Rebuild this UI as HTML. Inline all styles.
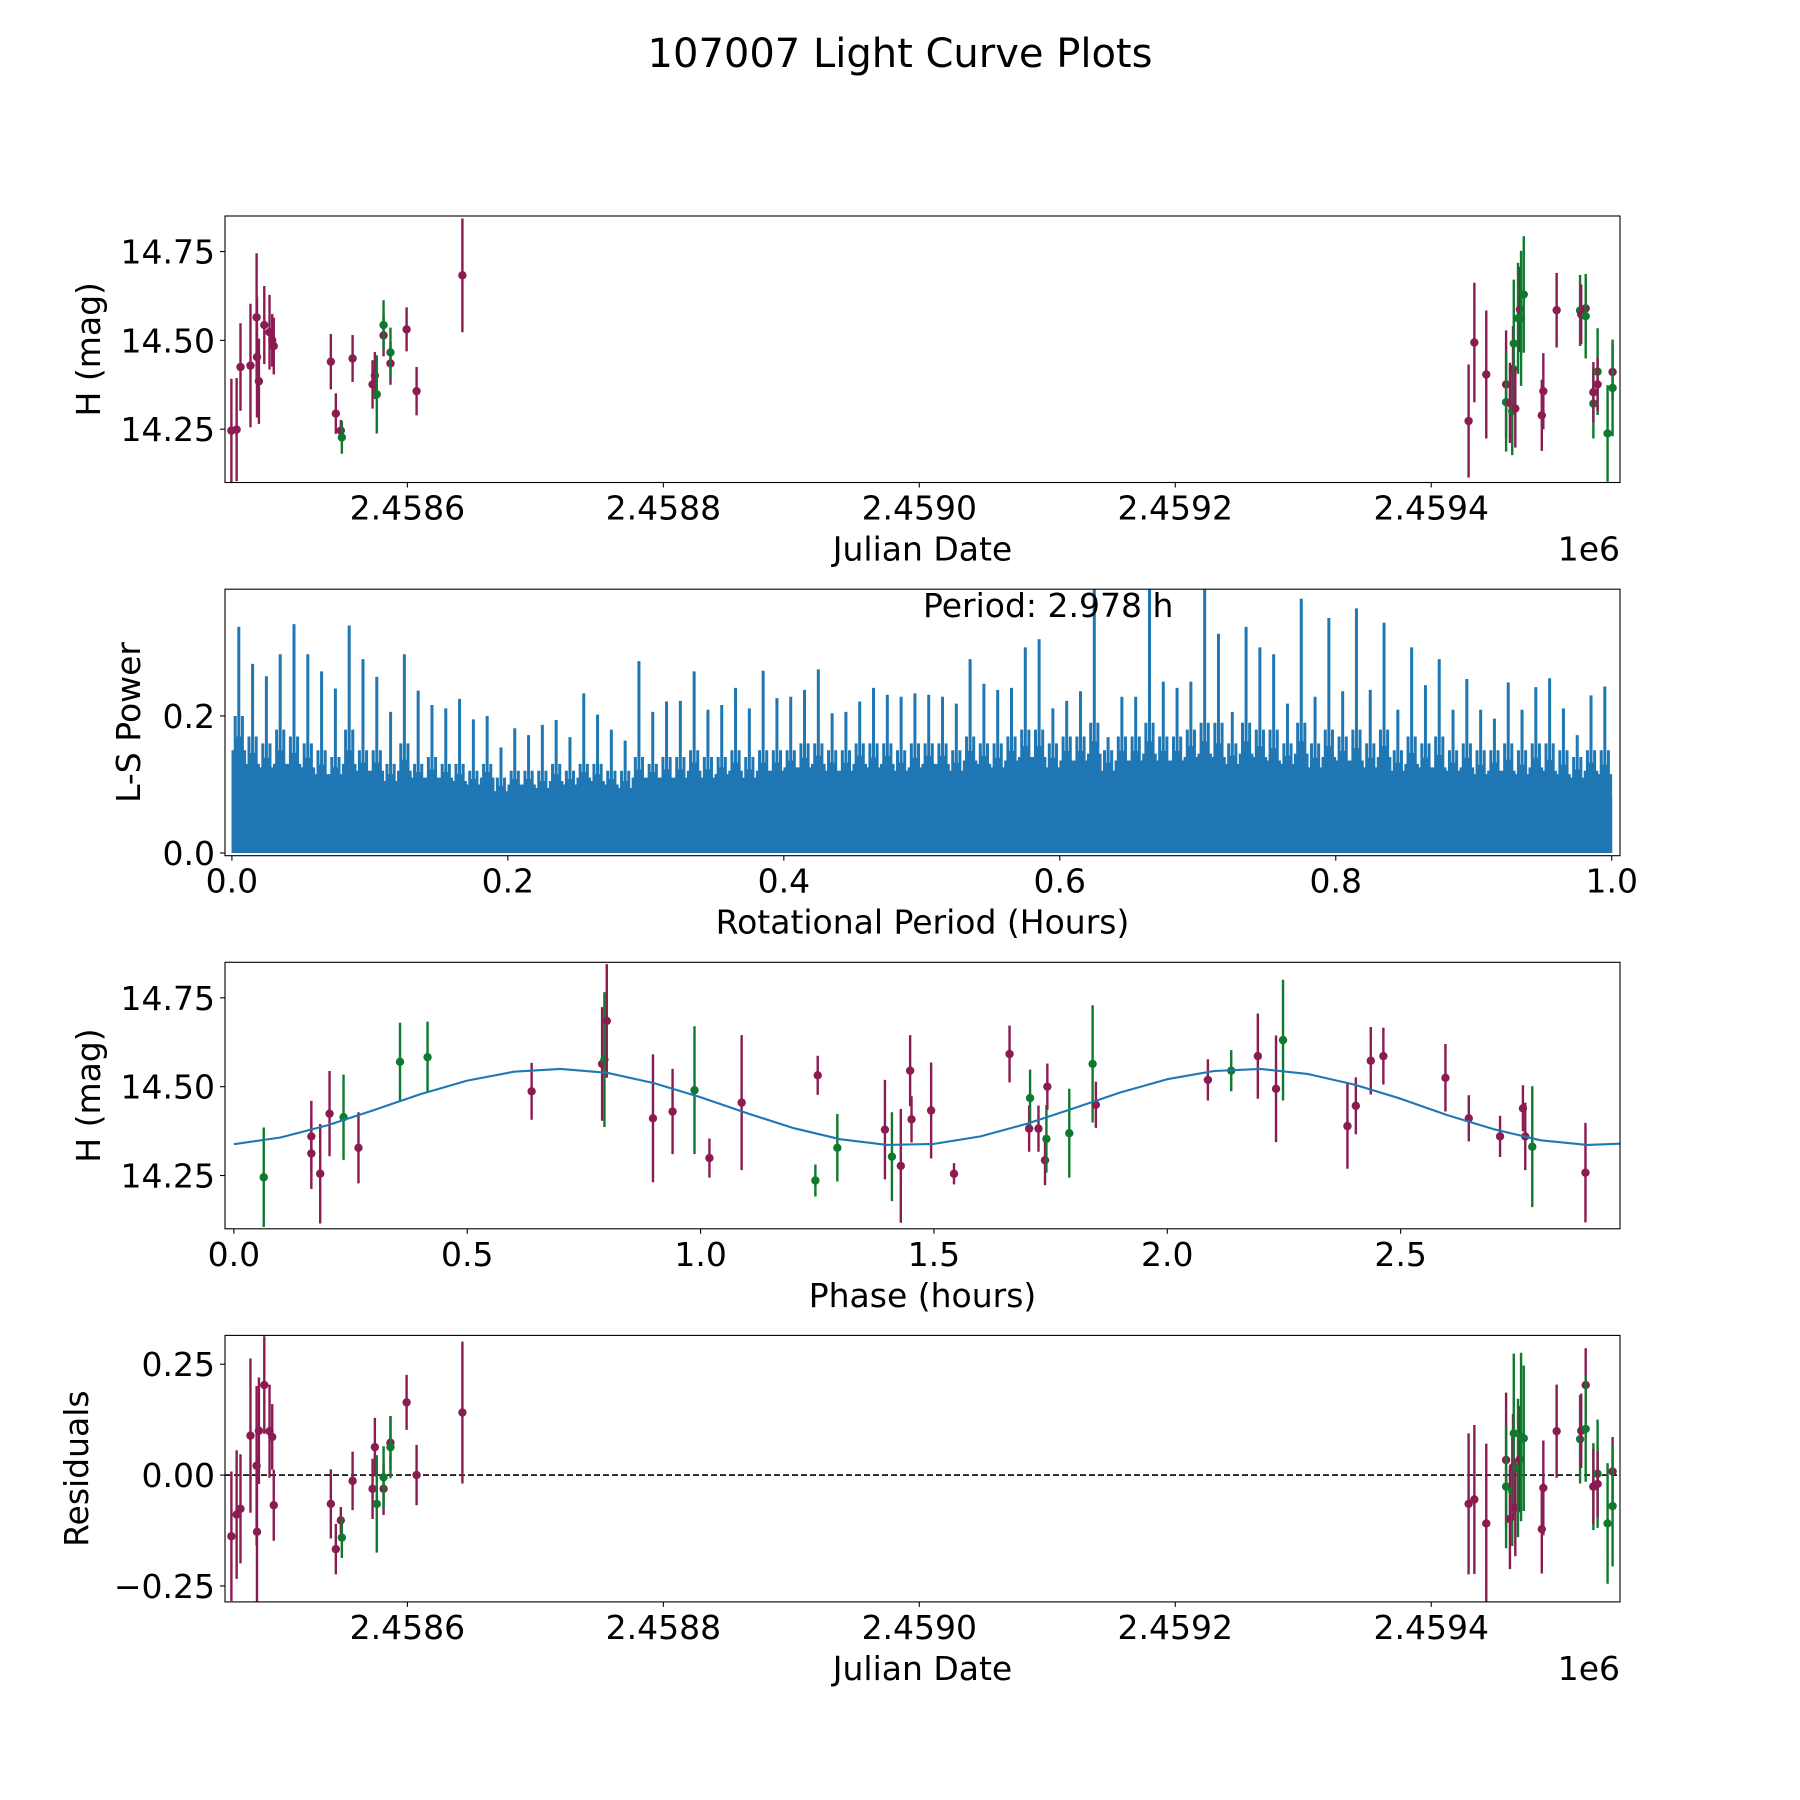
<!DOCTYPE html>
<html><head><meta charset="utf-8"><style>
html,body{margin:0;padding:0;background:#fff;}
svg{display:block;font-family:"DejaVu Sans","Liberation Sans",sans-serif;}
</style></head><body>
<svg id="fig" width="1800" height="1800" viewBox="0 0 1800 1800" xmlns="http://www.w3.org/2000/svg">
<rect x="0" y="0" width="1800" height="1800" fill="#fff"/>
<text x="900" y="67" font-size="40" text-anchor="middle">107007 Light Curve Plots</text>
</svg>
<script>
// ---- Light curve data (panel 1 & 4) ----
const jd = [2458462.5,2458466.6,2458469.6,2458477.4,2458482.2,2458482.5,2458484.0,2458488.2,2458492.3,2458494.4,2458495.6,
2458540.2,2458544.1,2458548.0,2458548.8,2458557.2,2458572.8,2458574.6,2458576.1,2458581.4,2458581.4,2458586.8,2458586.8,2458599.4,2458607.2,2458643.0,
2459429.2,2459433.7,2459443.0,2459458.5,2459458.5,2459461.5,2459463.3,2459463.9,2459464.5,2459465.7,2459467.8,2459469.3,2459470.2,2459472.3,2459486.4,2459487.6,2459498.0,2459516.3,2459517.2,2459520.7,2459520.7,2459526.7,2459526.7,2459530.0,2459530.0,2459537.8,2459541.7,2459541.7];
const mag = [14.246,14.249,14.425,14.429,14.565,14.453,14.385,14.543,14.523,14.500,14.484,
14.440,14.294,14.246,14.227,14.449,14.376,14.401,14.348,14.514,14.543,14.435,14.466,14.531,14.357,14.683,
14.273,14.494,14.404,14.376,14.326,14.324,14.301,14.420,14.491,14.308,14.562,14.587,14.562,14.629,14.289,14.357,14.585,14.584,14.573,14.590,14.568,14.322,14.354,14.412,14.376,14.238,14.411,14.366];
const magErr = [0.146,0.145,0.123,0.174,0.18,0.17,0.12,0.11,0.105,0.074,0.08,
0.078,0.057,0.03,0.046,0.066,0.068,0.066,0.11,0.059,0.07,0.06,0.07,0.062,0.068,0.16,
0.159,0.168,0.180,0.152,0.139,0.113,0.124,0.12,0.18,0.11,0.156,0.12,0.19,0.164,0.10,0.107,0.105,0.10,0.084,0.083,0.119,0.098,0.085,0.122,0.075,0.136,0.078,0.136];
const band = ['m','m','m','m','m','m','m','m','m','m','m',
'm','m','m','g','m','m','m','g','m','g','m','g','m','m','m',
'm','m','m','m','g','m','g','m','g','m','g','m','g','g','m','m','m','g','m','m','g','g','m','g','m','g','m','g'];
const resid = [-0.138,-0.089,-0.076,0.089,0.021,-0.128,0.10,0.203,0.099,0.086,-0.068,
-0.065,-0.167,-0.102,-0.141,-0.013,-0.031,0.063,-0.065,-0.031,-0.005,0.073,0.063,0.164,0.0,0.141,
-0.065,-0.055,-0.109,0.034,-0.026,-0.099,-0.036,0.018,0.094,-0.073,0.016,0.036,0.086,0.083,-0.122,-0.029,0.099,0.081,0.10,0.203,0.104,-0.026,-0.026,0.003,-0.02,-0.109,0.008,-0.07];
const jdTicks = [2458600,2458800,2459000,2459200,2459400];
const jdTickLabels = ['2.4586','2.4588','2.4590','2.4592','2.4594'];
const magTicks = [14.25,14.50,14.75];
const magTickLabels = ['14.25','14.50','14.75'];
const resTicks = [-0.25,0,0.25];
const resTickLabels = ['\u22120.25','0.00','0.25'];

// ---- Periodogram data (panel 2), per 0.01 h bin ----
const lsPeak = [0.33,0.276,0.258,0.29,0.334,0.29,0.265,0.24,0.332,0.283,
0.257,0.206,0.29,0.237,0.216,0.211,0.225,0.195,0.20,0.154,
0.182,0.172,0.187,0.194,0.169,0.233,0.202,0.18,0.164,0.28,
0.206,0.221,0.222,0.265,0.209,0.216,0.241,0.211,0.266,0.226,
0.228,0.238,0.268,0.204,0.206,0.221,0.241,0.231,0.228,0.233,
0.231,0.228,0.218,0.283,0.247,0.238,0.241,0.30,0.312,0.211,
0.222,0.236,0.385,0.169,0.228,0.228,0.385,0.25,0.241,0.25,
0.39,0.32,0.206,0.33,0.30,0.29,0.218,0.371,0.228,0.343,
0.236,0.357,0.238,0.336,0.209,0.30,0.245,0.283,0.209,0.254,
0.209,0.196,0.249,0.209,0.242,0.255,0.211,0.172,0.23,0.243];
const lsMid = [0.20,0.17,0.16,0.18,0.17,0.16,0.15,0.14,0.18,0.15,0.15,0.13,0.16,0.13,0.14,0.13,0.13,0.12,0.13,0.11,
0.12,0.12,0.12,0.13,0.12,0.13,0.13,0.12,0.12,0.14,0.13,0.14,0.14,0.15,0.14,0.14,0.15,0.14,0.15,0.15,
0.15,0.16,0.16,0.15,0.15,0.16,0.16,0.16,0.15,0.16,0.16,0.16,0.15,0.17,0.16,0.16,0.17,0.18,0.18,0.16,
0.17,0.17,0.19,0.15,0.17,0.17,0.19,0.17,0.17,0.18,0.19,0.19,0.16,0.19,0.18,0.18,0.16,0.19,0.16,0.18,
0.17,0.18,0.16,0.18,0.15,0.17,0.16,0.17,0.15,0.16,0.15,0.15,0.16,0.15,0.16,0.16,0.15,0.14,0.15,0.15];
const lsBase = [0.10,0.09,0.09,0.08,0.09,0.09,0.08,0.09,0.08,0.09,0.09,0.08,0.08,0.09,0.08,0.09,0.08,0.08,0.09,0.07,
0.08,0.08,0.07,0.08,0.08,0.09,0.08,0.08,0.07,0.08,0.09,0.08,0.08,0.09,0.08,0.09,0.09,0.08,0.09,0.09,
0.10,0.09,0.10,0.09,0.09,0.10,0.09,0.10,0.09,0.09,0.10,0.10,0.09,0.10,0.10,0.09,0.10,0.10,0.10,0.09,
0.10,0.10,0.10,0.09,0.10,0.10,0.10,0.10,0.10,0.10,0.10,0.09,0.10,0.10,0.10,0.09,0.10,0.10,0.09,0.10,
0.10,0.09,0.09,0.10,0.09,0.09,0.09,0.08,0.09,0.09,0.08,0.09,0.08,0.08,0.09,0.08,0.08,0.08,0.09,0.08];
const lsBinWidth = 0.01;
const periodTicks = [0,0.2,0.4,0.6,0.8,1.0];
const periodTickLabels = ['0.0','0.2','0.4','0.6','0.8','1.0'];
const powerTicks = [0,0.2];
const powerTickLabels = ['0.0','0.2'];

// ---- Phase-folded data (panel 3) ----
const phase = [0.064,0.166,0.166,0.185,0.205,0.235,0.267,0.356,0.415,0.638,0.789,0.794,0.799,0.898,0.940,0.987,1.019,1.088,1.251,1.246,1.293,1.395,1.410,1.429,1.449,1.452,1.494,1.543,1.662,1.704,1.706,1.724,1.738,1.741,1.743,1.790,1.840,1.847,2.087,2.137,2.194,2.233,2.248,2.386,2.404,2.436,2.463,2.596,2.646,2.713,2.762,2.767,2.782,2.896];
const phaseMag = [14.245,14.360,14.312,14.255,14.424,14.414,14.328,14.570,14.583,14.487,14.564,14.576,14.685,14.411,14.430,14.490,14.299,14.455,14.532,14.236,14.328,14.379,14.303,14.277,14.545,14.408,14.433,14.255,14.592,14.382,14.468,14.382,14.293,14.353,14.500,14.369,14.564,14.449,14.519,14.545,14.586,14.494,14.631,14.389,14.446,14.573,14.586,14.525,14.411,14.360,14.439,14.360,14.331,14.258];
const phaseErr = [0.14,0.10,0.10,0.14,0.12,0.12,0.10,0.11,0.10,0.08,0.16,0.19,0.16,0.18,0.12,0.18,0.055,0.19,0.055,0.045,0.095,0.14,0.125,0.16,0.10,0.065,0.135,0.03,0.08,0.065,0.08,0.065,0.07,0.095,0.065,0.125,0.165,0.065,0.058,0.058,0.12,0.15,0.17,0.12,0.08,0.095,0.08,0.095,0.065,0.058,0.065,0.095,0.17,0.14];
const phaseBand = ['g','m','m','m','m','g','m','g','g','m','m','g','m','m','m','g','m','m','m','g','g','m','g','m','m','m','m','m','m','m','g','m','m','g','m','g','g','m','m','g','m','m','g','m','m','m','m','m','m','m','m','m','g','m'];
const modelPhase = [0,0.1,0.2,0.3,0.4,0.5,0.6,0.7,0.8,0.9,1.0,1.1,1.2,1.3,1.4,1.5,1.6,1.7,1.8,1.9,2.0,2.1,2.2,2.3,2.4,2.5,2.6,2.7,2.8,2.9,2.978];
const modelMag = [14.338,14.357,14.391,14.434,14.479,14.517,14.542,14.550,14.539,14.510,14.470,14.425,14.383,14.352,14.336,14.339,14.360,14.396,14.439,14.484,14.521,14.544,14.550,14.536,14.506,14.466,14.420,14.380,14.349,14.336,14.340];
const phaseTicks = [0,0.5,1.0,1.5,2.0,2.5];
const phaseTickLabels = ['0.0','0.5','1.0','1.5','2.0','2.5'];

const NS = 'http://www.w3.org/2000/svg';
const svg = document.getElementById('fig');
const COL = {m:'#8a1c52', g:'#0f7a2e'};
const L = 225, W = 1395, H = 266.5;
const tops = [216, 589.2, 962.3, 1335.4];

function mk(tag, attrs, parent){
  const e = document.createElementNS(NS, tag);
  for (const k in attrs) e.setAttribute(k, attrs[k]);
  (parent||svg).appendChild(e);
  return e;
}
function axes(idx, x0, x1, y0, y1){
  const T = tops[idx];
  return {
    T, x0, x1, y0, y1,
    x: v => L + (v - x0) / (x1 - x0) * W,
    y: v => T + (y1 - v) / (y1 - y0) * H
  };
}
function frame(ax, name){
  const g = mk('g', {});
  
  
  const cp = mk('clipPath', {id: 'clip-' + name}, g);
  mk('rect', {x: L, y: ax.T, width: W, height: H}, cp);
  const plot = mk('g', {'clip-path': 'url(#clip-' + name + ')'}, g);
  
  
  return {g, plot};
}
function border(ax, g){
  const r = mk('rect', {x: L, y: ax.T, width: W, height: H, fill: 'none', stroke: '#000', 'stroke-width': 1.1}, g);
  
  
}
function xTicks(ax, g, ticks, labels){
  const B = ax.T + H;
  ticks.forEach((t, i) => {
    const X = ax.x(t);
    const tk = mk('line', {x1: X, x2: X, y1: B, y2: B + 5, stroke: '#000', 'stroke-width': 1.1}, g);
    
    
    const tx = mk('text', {x: X, y: B + 37, 'font-size': 33, 'text-anchor': 'middle'}, g);
    
    
    tx.textContent = labels[i];
  });
}
function yTicks(ax, g, ticks, labels){
  ticks.forEach((t, i) => {
    const Y = ax.y(t);
    const tk = mk('line', {x1: L - 5, x2: L, y1: Y, y2: Y, stroke: '#000', 'stroke-width': 1.1}, g);
    
    
    const tx = mk('text', {x: L - 10, y: Y + 12, 'font-size': 33, 'text-anchor': 'end'}, g);
    
    
    tx.textContent = labels[i];
  });
}
function xLabel(ax, g, txt, name){
  const t = mk('text', {x: L + W / 2, y: ax.T + H + 78, 'font-size': 33, 'text-anchor': 'middle'}, g);
  
  
  t.textContent = txt;
}
function yLabel(ax, g, txt, cx, name){
  const cy = ax.T + H / 2;
  const t = mk('text', {x: cx, y: cy, 'font-size': 33, 'text-anchor': 'middle', transform: 'rotate(-90 ' + cx + ' ' + cy + ')'}, g);
  
  
  t.textContent = txt;
}
function offsetText(ax, g){
  const t = mk('text', {x: L + W, y: ax.T + H + 78, 'font-size': 33, 'text-anchor': 'end'}, g);
  
  
  t.textContent = '1e6';
}
function errPoint(ax, plot, xv, yv, ev, c){
  const X = ax.x(xv);
  const ln = mk('line', {x1: X, x2: X, y1: ax.y(yv - ev), y2: ax.y(yv + ev), stroke: COL[c], 'stroke-width': 2.4}, plot);
  
  
  const dot = mk('circle', {cx: X, cy: ax.y(yv), r: 4.2, fill: COL[c]}, plot);
  
  
}

// Panel 1
(function(){
  const ax = axes(0, 2458457.5, 2459547.5, 14.10, 14.85);
  const f = frame(ax, 'light-curve-panel');
  for (let i = 0; i < jd.length; i++) errPoint(ax, f.plot, jd[i], mag[i], magErr[i], band[i]);
  border(ax, f.g);
  xTicks(ax, f.g, jdTicks, jdTickLabels);
  yTicks(ax, f.g, magTicks, magTickLabels);
  xLabel(ax, f.g, 'Julian Date', 'x-axis-title');
  offsetText(ax, f.g);
  yLabel(ax, f.g, 'H (mag)', 100, 'y-axis-title');
})();

// Panel 2
(function(){
  const ax = axes(1, -0.005, 1.006, -0.004, 0.385);
  const f = frame(ax, 'periodogram-panel');
  const blue = '#1f77b4';
  const fr = [0.08, 0.24, 0.38, 0.62, 0.76, 0.92];
  for (let i = 0; i < lsPeak.length; i++){
    const a = i * lsBinWidth, b = (i + 1) * lsBinWidth;
    const xa = ax.x(a), xb = ax.x(b);
    const r = mk('rect', {x: xa, y: ax.y(lsBase[i]), width: xb - xa + 0.5, height: ax.y(0) - ax.y(lsBase[i]), fill: blue}, f.plot);
    
    
    fr.forEach((p, k) => {
      const X = ax.x(a + p * lsBinWidth);
      const lvl = (k === 1 || k === 4) ? lsMid[i] : (k === 2 || k === 3) ? (lsMid[i] * 0.7 + lsBase[i] * 0.3) : (lsMid[i] + lsBase[i]) / 2;
      const s = mk('line', {x1: X, x2: X, y1: ax.y(0), y2: ax.y(lvl), stroke: blue, 'stroke-width': 3}, f.plot);
      
      
    });
    const X = ax.x(a + 0.5 * lsBinWidth);
    const s = mk('line', {x1: X, x2: X, y1: ax.y(0), y2: ax.y(lsPeak[i]), stroke: blue, 'stroke-width': 3}, f.plot);
    
    
  }
  border(ax, f.g);
  xTicks(ax, f.g, periodTicks, periodTickLabels);
  yTicks(ax, f.g, powerTicks, powerTickLabels);
  xLabel(ax, f.g, 'Rotational Period (Hours)', 'x-axis-title');
  yLabel(ax, f.g, 'L-S Power', 140, 'y-axis-title');
  const pt = mk('text', {x: 923, y: 617, 'font-size': 33}, f.g);
  
  
  pt.textContent = 'Period: 2.978 h';
})();

// Panel 3
(function(){
  const ax = axes(2, -0.019, 2.970, 14.10, 14.85);
  const f = frame(ax, 'phase-panel');
  for (let i = 0; i < phase.length; i++) errPoint(ax, f.plot, phase[i], phaseMag[i], phaseErr[i], phaseBand[i]);
  const d = modelPhase.map((p, i) => (i ? 'L' : 'M') + ax.x(p).toFixed(1) + ' ' + ax.y(modelMag[i]).toFixed(1)).join(' ');
  const pl = mk('path', {d: d, fill: 'none', stroke: '#1f77b4', 'stroke-width': 2.1, 'stroke-linejoin': 'round'}, f.plot);
  
  
  border(ax, f.g);
  xTicks(ax, f.g, phaseTicks, phaseTickLabels);
  yTicks(ax, f.g, magTicks, magTickLabels);
  xLabel(ax, f.g, 'Phase (hours)', 'x-axis-title');
  yLabel(ax, f.g, 'H (mag)', 100, 'y-axis-title');
})();

// Panel 4
(function(){
  const ax = axes(3, 2458457.5, 2459547.5, -0.286, 0.315);
  const f = frame(ax, 'residuals-panel');
  const z = mk('line', {x1: L, x2: L + W, y1: ax.y(0), y2: ax.y(0), stroke: '#000', 'stroke-width': 1.6, 'stroke-dasharray': '6,3'}, f.plot);
  
  
  for (let i = 0; i < jd.length; i++) errPoint(ax, f.plot, jd[i], resid[i], magErr[i], band[i]);
  border(ax, f.g);
  xTicks(ax, f.g, jdTicks, jdTickLabels);
  yTicks(ax, f.g, resTicks, resTickLabels);
  xLabel(ax, f.g, 'Julian Date', 'x-axis-title');
  offsetText(ax, f.g);
  yLabel(ax, f.g, 'Residuals', 88, 'y-axis-title');
})();
</script>
</body></html>
